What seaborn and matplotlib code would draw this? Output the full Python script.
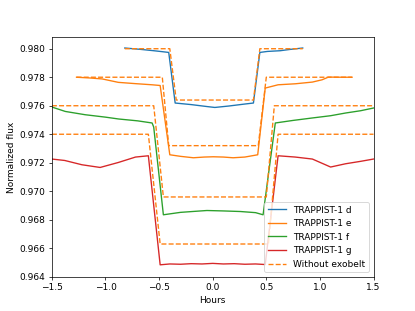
import seaborn as sns
import matplotlib
matplotlib.use("Agg")
import matplotlib.pyplot as plt

d_hours = [-0.82, -0.68, -0.55, -0.49, -0.41, -0.35, -0.20, -0.05, 0.02, 0.15, 0.30, 0.38, 0.44, 0.51, 0.63, 0.72, 0.84]
d_flux = [0.98005, 0.97996, 0.97986, 0.97981, 0.97974, 0.97619, 0.97608, 0.97594, 0.97588, 0.97598, 0.97612, 0.97619, 0.97974, 0.97981, 0.97986, 0.97995, 0.98005]

e_hours = [-1.27, -1.15, -1.03, -0.88, -0.72, -0.565, -0.49, -0.40, -0.30, -0.18, -0.08, 0.005, 0.10, 0.19, 0.30, 0.42,
           0.49, 0.61, 0.77, 0.93, 1.02, 1.08, 1.20, 1.30]
e_flux = [0.97800, 0.97795, 0.97788, 0.97764, 0.97755, 0.97747, 0.97742, 0.97256, 0.97245, 0.97235, 0.97240, 0.97242,
          0.97240, 0.97235, 0.97240, 0.97256, 0.97724, 0.97747, 0.97754, 0.97766, 0.97782, 0.97801, 0.97800, 0.97800]

f_hours = [-1.5, -1.375, -1.19, -1.0, -0.877, -0.70, -0.565, -0.55, -0.46, -0.30, -0.15, -0.054, 0.10, 0.257, 0.40, 0.47,
           0.584, 0.75, 0.927, 1.10, 1.24, 1.38, 1.5]
f_flux = [0.97591, 0.97560, 0.97537, 0.97520, 0.97507, 0.97494, 0.97479, 0.97450, 0.96835, 0.96852, 0.96860, 0.96865,
          0.96862, 0.96858, 0.96850, 0.96835, 0.97479, 0.97497, 0.97514, 0.97530, 0.97549, 0.97565, 0.97584]

g_hours = [-1.5, -1.38, -1.22, -1.05, -0.88, -0.72, -0.60, -0.49, -0.40, -0.30, -0.20, -0.10, 0.0, 0.10, 0.20, 0.30,
           0.40, 0.49, 0.61, 0.77, 0.93, 1.10, 1.24, 1.38, 1.5]
g_flux = [0.97226, 0.97216, 0.97186, 0.97167, 0.97202, 0.97240, 0.97249, 0.96484, 0.96490, 0.96488, 0.96492, 0.96490,
          0.96494, 0.96490, 0.96492, 0.96488, 0.96490, 0.96486, 0.97249, 0.97240, 0.97226, 0.97170, 0.97193, 0.97210, 0.97226]

# models without exobelt
md_hours = [-0.82, -0.40, -0.34, 0.38, 0.44, 0.84]
md_flux = [0.980, 0.980, 0.9764, 0.9764, 0.980, 0.980]
me_hours = [-1.27, -0.47, -0.41, 0.425, 0.50, 1.30]
me_flux = [0.978, 0.978, 0.9732, 0.9732, 0.978, 0.978]
mf_hours = [-1.5, -0.55, -0.46, 0.50, 0.575, 1.5]
mf_flux = [0.976, 0.976, 0.9696, 0.9696, 0.976, 0.976]
mg_hours = [-1.5, -0.60, -0.49, 0.52, 0.61, 1.5]
mg_flux = [0.974, 0.974, 0.9663, 0.9663, 0.974, 0.974]

fig, ax = plt.subplots(figsize=(415 / 65, 311 / 65), dpi=65)

planets = [("TRAPPIST-1 d", d_hours, d_flux, "C0"),
           ("TRAPPIST-1 e", e_hours, e_flux, "C1"),
           ("TRAPPIST-1 f", f_hours, f_flux, "C2"),
           ("TRAPPIST-1 g", g_hours, g_flux, "C3")]
for name, h, fl, c in planets:
    sns.lineplot(x=h, y=fl, ax=ax, color=c, label=name, sort=False, estimator=None, linewidth=1.5)

models = [(md_hours, md_flux), (me_hours, me_flux), (mf_hours, mf_flux), (mg_hours, mg_flux)]
for i, (h, fl) in enumerate(models):
    sns.lineplot(x=h, y=fl, ax=ax, color="C1", linestyle="--", sort=False, estimator=None, linewidth=1.5,
                 label="Without exobelt" if i == 0 else None)

ax.set_xlim(-1.5, 1.5)
ax.set_ylim(0.964, 0.9808)
ax.set_yticks([0.964, 0.966, 0.968, 0.970, 0.972, 0.974, 0.976, 0.978, 0.980])
ax.set_xlabel("Hours")
ax.set_ylabel("Normalized flux")
ax.legend(loc="lower right")
fig.savefig("out.png", dpi=65)
